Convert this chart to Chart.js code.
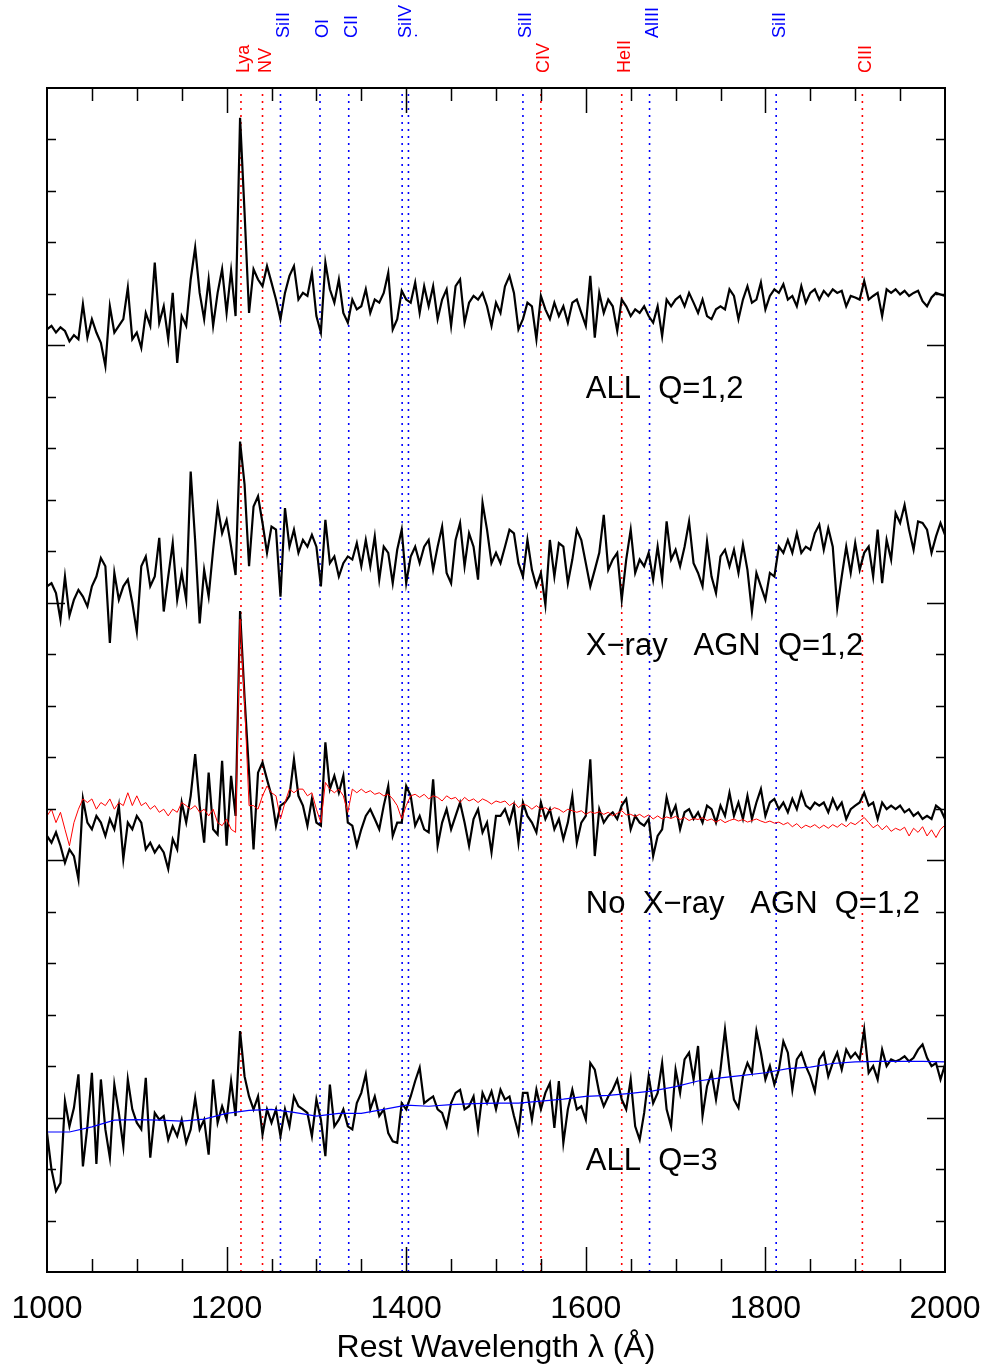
<!DOCTYPE html>
<html>
<head>
<meta charset="utf-8">
<script src="https://cdn.jsdelivr.net/npm/chart.js@4.4.1/dist/chart.umd.min.js"></script>
<style>
  html, body { margin: 0; padding: 0; background: #fff; }
</style>
</head>
<body>
<canvas id="myChart" width="988" height="1364"></canvas>
<script>
// wavelength grid of the stacked spectra (rest frame, Angstrom), 5 A steps
const waveStart = 1000, waveStep = 5;

// stacked spectra, flux (one tick = 1 unit), relative to each panel's zero mark
const allQ12 = [
  0.31, 0.38, 0.25, 0.35, 0.28, 0.08, 0.20, 0.12, 0.80, 0.15,
  0.51, 0.25, 0.05, -0.40, 0.76, 0.25, 0.38, 0.51, 1.12, 0.12,
  0.25, -0.05, 0.63, 0.38, 1.61, 0.44, 0.76, 0.12, 1.02, -0.34,
  0.57, 0.38, 1.28, 1.90, 1.02, 0.51, 1.28, 0.38, 1.02, 1.48,
  0.63, 1.45, 0.57, 4.42, 2.58, 0.63, 1.48, 1.28, 1.15, 1.54,
  1.22, 0.89, 0.51, 1.02, 1.35, 1.54, 0.89, 1.02, 0.96, 1.41,
  0.57, 0.25, 1.61, 1.09, 0.83, 1.28, 0.63, 0.44, 0.89, 0.70,
  0.76, 1.09, 0.63, 0.89, 0.83, 1.02, 1.41, 0.31, 0.51, 1.06,
  0.89, 0.83, 1.22, 0.63, 1.15, 0.76, 1.15, 0.51, 0.89, 1.09,
  0.38, 1.15, 1.28, 0.44, 0.83, 0.96, 0.89, 1.02, 0.76, 0.38,
  0.83, 0.63, 1.15, 1.35, 1.02, 0.31, 0.51, 0.83, 0.76, 0.12,
  0.96, 0.70, 0.51, 0.83, 0.57, 0.76, 0.44, 0.83, 0.89, 0.63,
  0.38, 1.35, 0.15, 1.02, 0.63, 0.89, 0.76, 0.28, 0.89, 0.76,
  0.57, 0.70, 0.63, 0.76, 0.57, 0.44, 0.76, 0.18, 0.89, 0.76,
  0.89, 0.96, 0.76, 1.02, 0.83, 0.63, 0.89, 0.57, 0.51, 0.70,
  0.76, 0.70, 1.09, 0.96, 0.51, 0.89, 1.15, 0.83, 0.89, 1.22,
  0.70, 0.96, 1.09, 1.02, 1.19, 0.89, 0.96, 0.76, 1.15, 0.83,
  1.02, 1.09, 0.89, 1.06, 0.96, 1.09, 1.02, 1.06, 0.76, 0.96,
  0.93, 0.89, 1.25, 0.89, 0.96, 1.02, 0.57, 1.09, 1.02, 1.09,
  0.99, 1.06, 0.96, 1.02, 1.06, 0.86, 0.76, 0.93, 1.02, 0.99,
  0.96
];
const xrayAgn = [
  0.32, 0.38, 0.19, -0.33, 0.51, -0.25, 0.06, 0.25, 0.12, -0.07,
  0.32, 0.51, 0.87, 0.71, -0.78, 0.58, 0.06, 0.32, 0.45, 0.00,
  -0.56, 0.71, 0.90, 0.32, 0.51, 1.26, -0.17, 0.51, 1.16, 0.06,
  0.58, 0.06, 2.55, 1.20, -0.40, 0.64, 0.12, 1.03, 1.87, 1.35,
  1.61, 1.09, 0.54, 3.13, 2.30, 0.71, 1.87, 2.07, 1.55, 0.97,
  1.48, 1.42, 0.12, 1.84, 1.09, 1.42, 0.97, 1.22, 1.09, 1.32,
  1.09, 0.32, 1.61, 0.77, 0.90, 0.51, 0.77, 0.90, 0.84, 1.16,
  0.71, 1.22, 0.71, 1.29, 0.45, 1.09, 0.97, 0.38, 1.03, 1.42,
  0.38, 0.90, 1.09, 0.77, 1.09, 1.22, 0.64, 1.09, 1.48, 0.58,
  0.38, 1.22, 1.55, 0.71, 1.35, 1.09, 0.45, 1.94, 1.42, 0.77,
  0.97, 0.77, 1.09, 1.42, 1.35, 0.77, 0.51, 1.22, 0.64, 0.32,
  0.58, -0.04, 1.22, 0.51, 1.16, 1.09, 0.38, 0.84, 1.42, 1.22,
  0.77, 0.32, 0.64, 0.97, 1.71, 0.64, 0.84, 0.97, 0.06, 0.84,
  1.42, 0.58, 0.84, 0.71, 0.97, 0.45, 1.09, 0.45, 1.58, 0.84,
  1.03, 0.71, 1.09, 1.58, 0.77, 0.58, 0.32, 1.19, 0.51, 0.19,
  0.90, 1.03, 0.71, 1.03, 0.58, 1.13, 0.64, -0.17, 0.58, 0.32,
  0.06, 0.58, 0.51, 1.09, 0.97, 1.22, 0.97, 1.35, 0.97, 1.09,
  1.03, 1.35, 1.52, 1.03, 1.45, 1.09, -0.10, 0.51, 1.09, 0.58,
  1.16, 0.64, 0.97, 1.09, 0.51, 1.42, 0.38, 1.22, 0.84, 1.74,
  1.55, 1.90, 1.42, 1.03, 1.58, 1.55, 1.42, 0.97, 1.29, 1.55,
  1.32
];
const noXray = [
  0.47, 0.34, 0.54, 0.28, -0.05, 0.21, 0.08, -0.37, 1.19, 0.73,
  0.60, 0.86, 0.73, 0.47, 0.80, 0.60, 1.06, 0.02, 0.73, 0.60,
  0.86, 0.73, 0.21, 0.34, 0.15, 0.28, 0.15, -0.17, 0.41, 0.21,
  1.12, 0.73, 1.25, 2.06, 1.06, 0.34, 1.70, 0.60, 0.50, 1.93,
  0.28, 1.64, 0.86, 4.84, 3.16, 1.70, 0.21, 1.70, 1.90, 1.57,
  1.25, 0.67, 1.06, 1.12, 1.25, 1.96, 1.25, 1.06, 0.67, 1.19,
  0.73, 0.67, 2.29, 1.38, 1.64, 1.31, 1.64, 0.73, 0.67, 0.28,
  0.60, 0.86, 0.99, 0.80, 0.60, 1.06, 1.44, 0.47, 0.73, 0.73,
  1.44, 1.25, 0.67, 0.86, 0.60, 0.54, 1.57, 0.28, 0.73, 0.99,
  0.60, 0.86, 1.12, 0.73, 0.28, 0.80, 0.99, 0.54, 0.73, 0.15,
  0.86, 0.86, 0.99, 0.73, 1.06, 0.34, 1.12, 0.86, 0.73, 0.54,
  1.12, 0.80, 0.99, 0.60, 0.80, 0.41, 0.73, 1.25, 0.34, 0.73,
  0.86, 1.96, 0.08, 0.99, 0.73, 0.86, 0.93, 0.80, 1.06, 1.19,
  0.60, 0.86, 0.73, 0.67, 0.80, 0.08, 0.47, 0.60, 1.22, 0.86,
  1.06, 0.60, 0.93, 0.99, 0.80, 0.93, 0.73, 1.06, 0.99, 0.73,
  1.06, 0.86, 1.31, 0.86, 1.12, 0.80, 1.25, 0.80, 1.12, 1.38,
  0.86, 1.12, 1.19, 0.99, 1.12, 0.93, 1.19, 0.99, 1.31, 1.06,
  0.99, 1.12, 1.06, 1.12, 0.93, 1.19, 0.99, 1.12, 0.80, 0.99,
  1.06, 1.12, 1.31, 1.06, 1.12, 0.80, 1.12, 0.99, 1.06, 0.99,
  1.06, 0.93, 0.99, 0.86, 0.93, 0.80, 0.86, 0.80, 1.06, 0.99,
  0.80
];
// comparison spectrum over-plotted in red on the "No X-ray AGN" panel
const noXrayRed = [
  0.86, 0.99, 0.73, 0.93, 0.60, 0.28, 0.73, 0.99, 1.19, 1.12,
  1.19, 0.99, 1.12, 1.06, 1.19, 0.99, 1.12, 1.06, 1.31, 1.06,
  1.25, 1.06, 1.12, 0.99, 1.06, 0.93, 0.99, 0.86, 0.99, 0.93,
  1.12, 1.06, 0.99, 1.06, 0.93, 0.99, 0.86, 0.99, 0.73, 0.67,
  0.80, 0.60, 0.54, 4.68, 3.06, 1.06, 1.06, 0.99, 1.25, 1.44,
  1.31, 1.25, 0.80, 1.12, 1.38, 1.31, 1.38, 1.38, 1.25, 1.31,
  0.99, 0.73, 1.51, 1.38, 1.31, 1.38, 1.25, 0.93, 1.38, 1.31,
  1.38, 1.31, 1.35, 1.28, 1.31, 1.25, 1.28, 1.19, 1.06, 0.80,
  1.06, 1.25, 1.28, 1.22, 1.28, 1.19, 1.25, 1.22, 1.15, 1.25,
  1.19, 1.22, 1.12, 1.22, 1.15, 1.19, 1.12, 1.19, 1.15, 1.09,
  1.15, 1.12, 1.15, 1.06, 1.12, 1.02, 1.09, 1.06, 0.99, 1.06,
  0.99, 1.02, 0.96, 1.02, 0.99, 0.93, 0.99, 0.96, 0.93, 0.96,
  0.89, 0.94, 0.91, 0.94, 0.89, 0.93, 0.86, 0.91, 0.96, 0.88,
  0.89, 0.85, 0.89, 0.83, 0.88, 0.80, 0.86, 0.80, 0.84, 0.81,
  0.85, 0.79, 0.83, 0.77, 0.81, 0.79, 0.83, 0.77, 0.80, 0.74,
  0.79, 0.73, 0.77, 0.80, 0.76, 0.79, 0.74, 0.77, 0.80, 0.76,
  0.73, 0.76, 0.72, 0.74, 0.69, 0.73, 0.65, 0.71, 0.62, 0.68,
  0.64, 0.69, 0.62, 0.68, 0.62, 0.69, 0.64, 0.71, 0.65, 0.73,
  0.69, 0.76, 0.83, 0.73, 0.63, 0.69, 0.59, 0.67, 0.56, 0.62,
  0.58, 0.64, 0.47, 0.62, 0.54, 0.65, 0.47, 0.59, 0.44, 0.60,
  0.68
];
const allQ3 = [
  -0.30, -1.01, -1.43, -1.27, 0.32, -0.17, 0.19, 0.84, -0.95, -0.17,
  0.87, -0.90, 0.74, -0.23, -0.78, 0.64, 0.09, -0.56, 0.74, 0.16,
  -0.10, -0.23, 0.77, -0.78, 0.09, -0.04, 0.03, -0.43, -0.17, -0.36,
  -0.04, -0.49, -0.23, 0.38, -0.23, -0.04, -0.72, 0.74, -0.10, 0.22,
  -0.04, 0.71, 0.03, 1.68, 0.80, 0.41, 0.16, 0.41, -0.33, 0.16,
  -0.10, 0.16, -0.36, 0.16, -0.17, 0.41, 0.22, 0.16, 0.09, -0.36,
  0.35, -0.04, -0.75, 0.64, -0.17, -0.04, 0.16, -0.17, -0.23, 0.28,
  0.48, 0.84, 0.16, 0.41, 0.03, 0.16, -0.30, -0.46, -0.49, 0.28,
  0.16, 0.41, 0.71, 0.97, 0.28, 0.35, 0.41, 0.16, 0.09, -0.17,
  0.28, 0.48, 0.54, 0.16, 0.22, 0.41, -0.23, 0.48, 0.28, 0.51,
  0.16, 0.54, 0.35, 0.41, 0.03, -0.30, 0.48, 0.48, -0.04, 0.54,
  0.16, 0.48, 0.67, -0.20, 0.71, -0.49, 0.16, 0.54, 0.16, 0.22,
  -0.04, 1.06, 0.93, 0.48, 0.22, 0.41, 0.54, 0.74, 0.35, 0.16,
  0.74, -0.17, -0.43, 0.09, 0.80, 0.28, 0.48, 1.06, 0.16, -0.17,
  0.93, 0.48, 1.13, 1.26, 0.74, 1.39, 0.03, 0.61, 0.87, 0.35,
  0.93, 1.71, 0.93, 0.35, 0.19, 0.80, 1.06, 0.87, 1.68, 1.26,
  0.74, 1.00, 0.64, 0.93, 1.48, 1.26, 0.54, 1.13, 1.26, 1.00,
  0.80, 0.51, 1.13, 1.26, 0.80, 1.06, 1.26, 0.93, 1.32, 1.16,
  1.26, 1.13, 1.71, 0.87, 1.00, 0.74, 1.32, 1.00, 1.13, 1.09,
  1.13, 1.19, 1.09, 1.16, 1.32, 1.42, 1.16, 1.00, 1.06, 0.74,
  1.03
];
// smooth blue curve on the Q=3 panel, every 25 A
const fitStep = 25;
const allQ3Fit = [
  -0.28, -0.28, -0.18, -0.05, -0.04, -0.05, -0.07, -0.03, 0.08, 0.14,
  0.16, 0.10, 0.03, 0.08, 0.08, 0.16, 0.24, 0.22, 0.25, 0.27,
  0.28, 0.28, 0.32, 0.36, 0.41, 0.43, 0.47, 0.52, 0.60, 0.71,
  0.77, 0.82, 0.87, 0.95, 0.98, 1.05, 1.08, 1.09, 1.09, 1.09,
  1.08
];

// vertical offset (zero mark) of each panel, and panel captions
const panelOffsets = [18, 13, 8, 3];
const panelNames = ['ALL  Q=1,2', 'X\u2212ray   AGN  Q=1,2', 'No  X\u2212ray   AGN  Q=1,2', 'ALL  Q=3'];

// emission (red) and absorption (blue) line marks
const emWave = [1216, 1240, 1550, 1640, 1908];
const emName = ['Lya', 'NV', 'CIV', 'HeII', 'CIII'];
const absWave = [1260, 1304, 1336, 1395.5, 1402.5, 1530, 1671, 1812];
const absName = ['SiII', 'OI', 'CII', 'SiIV', '.', 'SiII', 'AlIII', 'SiII'];

const xTicks = [1000, 1200, 1400, 1600, 1800, 2000];
const yMax = 23;

function toPoints(vals, off, step) {
  return vals.map((v, i) => ({ x: waveStart + i * step, y: v + off }));
}

const datasets = [];
emWave.forEach(w => datasets.push({
  data: [{ x: w, y: 0 }, { x: w, y: yMax }],
  borderColor: '#ff0000', borderWidth: 1.6, borderDash: [2, 5], pointRadius: 0, order: 5
}));
absWave.forEach(w => datasets.push({
  data: [{ x: w, y: 0 }, { x: w, y: yMax }],
  borderColor: '#0000ff', borderWidth: 1.6, borderDash: [2, 5], pointRadius: 0, order: 5
}));
datasets.push({ data: toPoints(noXrayRed, panelOffsets[2], waveStep), borderColor: '#ff0000', borderWidth: 1, pointRadius: 0, order: 0 });
datasets.push({ data: toPoints(allQ3Fit, panelOffsets[3], fitStep), borderColor: '#0000ff', borderWidth: 1.2, pointRadius: 0, order: 0 });
[allQ12, xrayAgn, noXray, allQ3].forEach((s, k) => datasets.push({
  data: toPoints(s, panelOffsets[k], waveStep),
  borderColor: '#000000', borderWidth: 2.2, pointRadius: 0, order: 1
}));

const frame = {
  id: 'frame',
  afterDraw(chart) {
    const { ctx, chartArea: a, scales: { x, y } } = chart;
    ctx.save();
    ctx.strokeStyle = '#000';
    ctx.lineWidth = 2;
    ctx.strokeRect(a.left, a.top, a.right - a.left, a.bottom - a.top);
    ctx.lineWidth = 1.5;
    ctx.beginPath();
    for (let v = 1; v < yMax; v++) {
      const py = Math.round(y.getPixelForValue(v)) + 0.5;
      const len = panelOffsets.includes(v) ? 18 : 9;
      ctx.moveTo(a.left, py); ctx.lineTo(a.left + len, py);
      ctx.moveTo(a.right, py); ctx.lineTo(a.right - len, py);
    }
    for (let w = 1050; w < 2000; w += 50) {
      const px = Math.round(x.getPixelForValue(w)) + 0.5;
      const len = (w % 200 === 0) ? 25 : 13;
      ctx.moveTo(px, a.top); ctx.lineTo(px, a.top + len);
      ctx.moveTo(px, a.bottom); ctx.lineTo(px, a.bottom - len);
    }
    ctx.stroke();

    ctx.fillStyle = '#000';
    ctx.font = '32px "Liberation Sans", Arial, sans-serif';
    ctx.textAlign = 'center';
    ctx.textBaseline = 'alphabetic';
    xTicks.forEach(t => ctx.fillText(String(t), x.getPixelForValue(t), a.bottom + 46));
    ctx.fillText('Rest Wavelength \u03bb (\u00c5)', (a.left + a.right) / 2, a.bottom + 85);

    ctx.textAlign = 'left';
    ctx.font = '31px "Liberation Sans", Arial, sans-serif';
    panelNames.forEach((n, k) => {
      ctx.fillText(n, x.getPixelForValue(1600), y.getPixelForValue(panelOffsets[k] - 1) + 1);
    });

    ctx.font = '18px "Liberation Sans", Arial, sans-serif';
    ctx.textBaseline = 'middle';
    const rot = (w, name, col, base) => {
      ctx.save();
      ctx.translate(x.getPixelForValue(w) + 3.5, base);
      ctx.rotate(-Math.PI / 2);
      ctx.fillStyle = col;
      ctx.fillText(name, 0, 0);
      ctx.restore();
    };
    emWave.forEach((w, i) => rot(w, emName[i], '#ff0000', 73));
    absWave.forEach((w, i) => rot(w, absName[i], '#0000ff', 38));
    ctx.restore();
  }
};

const ctx = document.getElementById('myChart');
const myChart = new Chart(ctx, {
  type: 'line',
  data: { datasets: datasets },
  options: {
    responsive: false,
    animation: false,
    layout: { padding: { left: 47, right: 43, top: 88, bottom: 92 } },
    plugins: { legend: { display: false }, tooltip: { enabled: false } },
    elements: { line: { tension: 0 } },
    scales: {
      x: { type: 'linear', min: 1000, max: 2000, display: false },
      y: { type: 'linear', min: 0, max: yMax, display: false }
    }
  },
  plugins: [frame]
});
</script>
</body>
</html>
